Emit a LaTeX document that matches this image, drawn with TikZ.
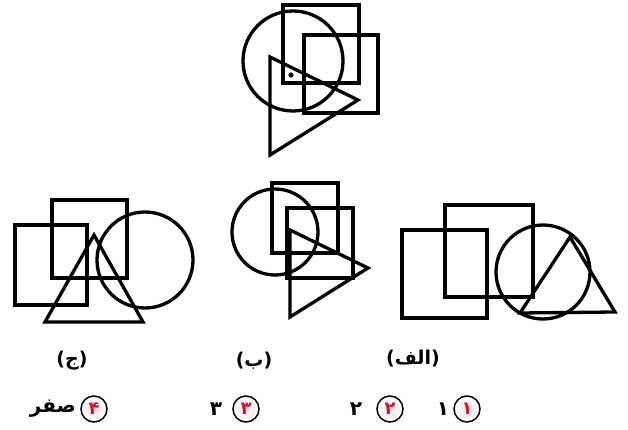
\documentclass[tikz,border=0pt]{standalone}
\usepackage{fontspec}
\newfontfamily\arabicfont[Script=Arabic]{DejaVu Sans}
\TeXXeTstate=1
\usetikzlibrary{positioning}
\definecolor{optred}{RGB}{205,25,45}
\definecolor{optfill}{RGB}{250,222,228}

\begin{document}
\begin{tikzpicture}[x=1pt, y=-1pt,
  fig/.style={line width=3.3pt, line join=miter},
  lab/.style={font=\arabicfont\bfseries\fontsize{19}{22}\selectfont, inner sep=1pt},
  opt/.style={circle, draw, line width=1.5pt, inner color=optfill, outer color=white, minimum size=26pt, inner sep=0pt, font=\arabicfont\bfseries\fontsize{18}{20}\selectfont, text=optred},
  ans/.style={font=\arabicfont\bfseries\fontsize{20}{22}\selectfont, inner sep=1pt}
]
\useasboundingbox (0,0) rectangle (628,430);

% question figure
\draw[fig] (293,61) circle[radius=50pt];
\draw[fig] (283,5) rectangle (359,83);
\draw[fig] (304,35) rectangle (378,113);
\draw[fig] (270,57) -- (358,100) -- (270,155) -- cycle;
\fill (291,75) circle[radius=2.6pt];

% (ج)
\draw[fig] (15,225) rectangle (87,305);
\draw[fig] (52,200) rectangle (127,278);
\draw[fig] (145,260) circle[radius=48pt];
\draw[fig] (94,235) -- (143,322) -- (45,322) -- cycle;

% (ب)
\draw[fig] (275,232) circle[radius=43pt];
\draw[fig] (272,183) rectangle (338,253);
\draw[fig] (287,208) rectangle (353,278);
\draw[fig] (290,230) -- (368,268) -- (290,317) -- cycle;

% (الف)
\draw[fig] (402,230) rectangle (487,318);
\draw[fig] (445,205) rectangle (533,297);
\draw[fig] (543,272) circle[radius=47pt];
\draw[fig] (570,237) -- (615,312) -- (520,313) -- cycle;

% labels
\node[lab] (labc) at (72,361) {\beginR(ج)\endR};
\node[lab] (labb) at (254,361) {\beginR(ب)\endR};
\node[lab] (laba) at (413,359) {\beginR(الف)\endR};

% options
\node[opt] (o1) at (467,409) {\beginR۱\endR};
\node[ans, left=3pt of o1] (a1) {\beginR۱\endR};
\node[opt] (o2) at (390,409) {\beginR۲\endR};
\node[ans, left=13pt of o2] (a2) {\beginR۲\endR};
\node[opt] (o3) at (246,409) {\beginR۳\endR};
\node[ans, left=9pt of o3] (a3) {\beginR۳\endR};
\node[opt] (o4) at (94,409) {\beginR۴\endR};
\node[ans, left=3pt of o4] (a4) {\beginR صفر\endR};
\end{tikzpicture}
\end{document}
